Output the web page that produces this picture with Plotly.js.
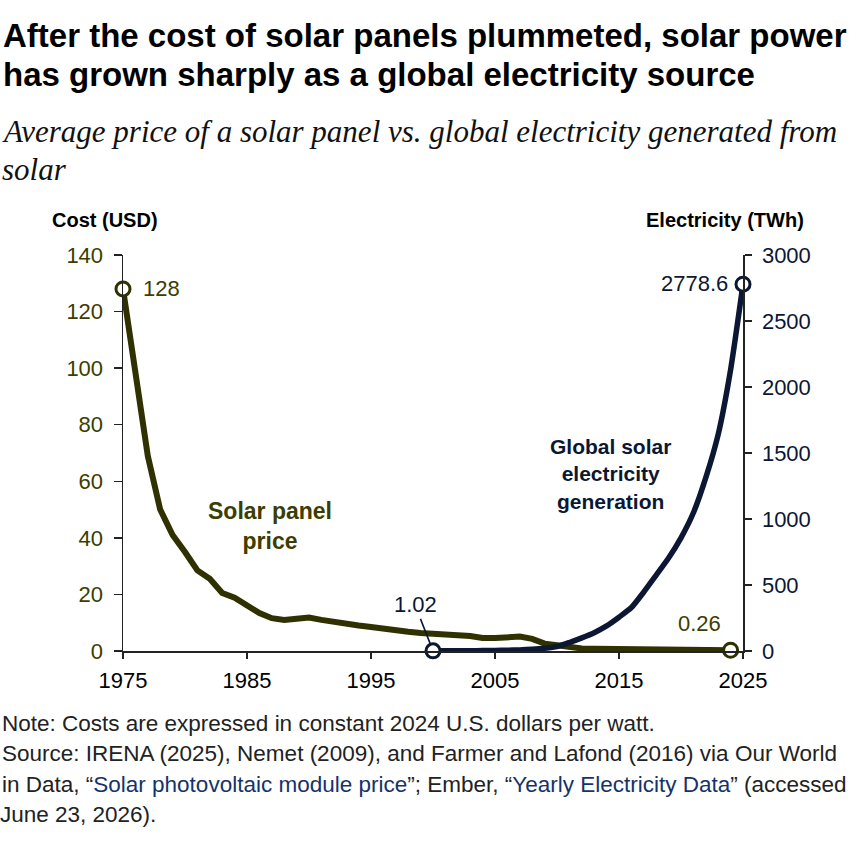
<!DOCTYPE html>
<html>
<head>
<meta charset="utf-8">
<script src="https://cdn.plot.ly/plotly-3.0.1.min.js"></script>
<style>
  html, body { margin: 0; padding: 0; background: #fff; }
  #chart { width: 860px; height: 848px; }
</style>
</head>
<body>
<div id="chart"></div>
<script>
// Solar panel price (constant 2024 USD per watt), 1975-2024
const priceYears = [1975,1976,1977,1978,1979,1980,1981,1982,1983,1984,1985,1986,1987,1988,1989,
  1990,1991,1992,1993,1994,1995,1996,1997,1998,1999,2000,2001,2002,2003,2004,2005,2006,2007,2008,
  2009,2010,2011,2012,2013,2014,2015,2016,2017,2018,2019,2020,2021,2022,2023,2024];
const priceValues = [128,98,69,50,41,35,28.5,25.5,20.5,18.8,16,13.4,11.6,11,11.4,
  11.8,11,10.2,9.6,9,8.5,7.8,7.6,6.8,6.4,6.3,6.1,5.6,5.3,4.6,4.6,5,5.1,4.3,
  2.6,2,1.3,0.9,0.8,0.75,0.65,0.55,0.45,0.35,0.32,0.3,0.33,0.35,0.3,0.26];

// Global solar electricity generation (TWh), 2000-2025
const genYears = [2000,2001,2002,2003,2004,2005,2006,2007,2008,2009,2010,2011,2012,
  2013,2014,2015,2016,2017,2018,2019,2020,2021,2022,2023,2024,2025];
const genValues = [1.02,1.3,1.8,2.3,3.2,4.3,5.7,7.9,12.8,20.7,33.5,64.5,99.5,
  139,190,256,329,447,575,704,857,1047,1313,1641,2131,2778.6];

const xTicks = [1975,1985,1995,2005,2015,2025];

const olive = '#2f3100';
const oliveText = '#3c3d00';
const navy = '#0b1733';

// plot area in page pixels: x 123..743, y 255..651
const W = 860, H = 848;
const L = 123, R = 743, T = 255, B = 651;
function px(x) { return (x - L) / (R - L); }
function py(y) { return (B - y) / (B - T); }

const first = a => [a[0]];
const last = a => [a[a.length - 1]];

const data = [
  {
    x: priceYears, y: priceValues, type: 'scatter', mode: 'lines',
    line: {color: olive, width: 6, shape: 'linear'},
    cliponaxis: false, hoverinfo: 'skip'
  },
  {
    x: genYears, y: genValues, type: 'scatter', mode: 'lines', yaxis: 'y2',
    line: {color: navy, width: 5.5, shape: 'spline', smoothing: 0.6},
    cliponaxis: false, hoverinfo: 'skip'
  },
  {
    x: first(priceYears).concat(last(priceYears)),
    y: first(priceValues).concat(last(priceValues)),
    type: 'scatter', mode: 'markers', cliponaxis: false,
    marker: {symbol: 'circle', size: 14, color: '#fff', line: {color: olive, width: 3}}
  },
  {
    x: first(genYears).concat(last(genYears)),
    y: first(genValues).concat(last(genValues)),
    type: 'scatter', mode: 'markers', yaxis: 'y2', cliponaxis: false,
    marker: {symbol: 'circle', size: 14, color: '#fff', line: {color: navy, width: 3}}
  }
];

const sans = 'Liberation Sans, Arial, sans-serif';
const tickFont = {family: sans, size: 22};

function pageText(text, x, y, opts) {
  return Object.assign({
    text: text, xref: 'paper', yref: 'paper', x: px(x), y: py(y),
    xanchor: 'left', yanchor: 'middle', showarrow: false,
    font: {family: sans, size: 20, color: '#000'}
  }, opts || {});
}

const noteFont = {family: sans, size: 22.5, color: '#222'};
const subFont = {family: 'Liberation Serif, Times New Roman, serif', size: 31, color: '#111'};

const annotations = [
  pageText('<b>After the cost of solar panels plummeted, solar power</b>', 1, 35,
    {font: {family: sans, size: 33, color: '#000'}}),
  pageText('<b>has grown sharply as a global electricity source</b>', 1, 74,
    {font: {family: sans, size: 33, color: '#000'}}),
  pageText('<i>Average price of a solar panel vs. global electricity generated from</i>', 0, 131,
    {font: subFont}),
  pageText('<i>solar</i>', 0, 169, {font: subFont}),

  pageText('<b>Cost (USD)</b>', 50, 220, {font: {family: sans, size: 20, color: '#000'}}),
  pageText('<b>Electricity (TWh)</b>', 806, 220,
    {xanchor: 'right', font: {family: sans, size: 20, color: '#000'}}),

  pageText('<b>Solar panel</b><br><b>price</b>', 270, 526,
    {xanchor: 'center', align: 'center', font: {family: sans, size: 23, color: oliveText}}),
  pageText('<b>Global solar</b><br><b>electricity</b><br><b>generation</b>', 610, 474,
    {xanchor: 'center', align: 'center', font: {family: sans, size: 21, color: navy}}),

  {
    text: '128', x: priceYears[0], y: priceValues[0], xref: 'x', yref: 'y',
    xanchor: 'left', yanchor: 'middle', xshift: 18, showarrow: false,
    font: {family: sans, size: 22, color: oliveText}
  },
  {
    text: String(last(priceValues)[0]), x: last(priceYears)[0], y: last(priceValues)[0],
    xref: 'x', yref: 'y', xanchor: 'center', yanchor: 'middle', xshift: -31, yshift: 27,
    showarrow: false, font: {family: sans, size: 22, color: oliveText}
  },
  {
    text: String(genValues[0]), x: genYears[0], y: genValues[0], xref: 'x', yref: 'y2',
    showarrow: true, arrowhead: 0, arrowwidth: 1.6, arrowcolor: navy,
    ax: -18, ay: -46, standoff: 7,
    font: {family: sans, size: 22, color: navy}
  },
  {
    text: String(last(genValues)[0]), x: last(genYears)[0], y: last(genValues)[0],
    xref: 'x', yref: 'y2', xanchor: 'right', yanchor: 'middle', xshift: -13, yshift: 1,
    showarrow: false, font: {family: sans, size: 22, color: navy}
  },

  pageText('Note: Costs are expressed in constant 2024 U.S. dollars per watt.', 0, 723,
    {font: noteFont}),
  pageText('Source: IRENA (2025), Nemet (2009), and Farmer and Lafond (2016) via Our World', 0, 753,
    {font: noteFont}),
  pageText('in Data, \u201c<span style="color:#15336b">Solar photovoltaic module price</span>\u201d; Ember, \u201c<span style="color:#15336b">Yearly Electricity Data</span>\u201d (accessed', 0, 784,
    {font: noteFont}),
  pageText('June 23, 2026).', -2, 814, {font: noteFont})
];

const layout = {
  width: W, height: H,
  margin: {l: L, r: W - R, t: T, b: H - B, pad: 0},
  paper_bgcolor: '#fff', plot_bgcolor: '#fff',
  showlegend: false,
  xaxis: {
    range: [1975, 2025], tickvals: xTicks, ticks: 'outside', ticklen: 6, tickwidth: 1.5,
    tickcolor: '#222', showline: true, linecolor: '#222', linewidth: 1.5,
    showgrid: false, zeroline: false, tickfont: Object.assign({color: '#000'}, tickFont),
    ticklabelstandoff: 3
  },
  yaxis: {
    range: [0, 140], dtick: 20, ticks: 'outside', ticklen: 8, tickwidth: 1.5,
    tickcolor: '#222', showline: true, linecolor: '#222', linewidth: 1.5,
    showgrid: false, zeroline: false, tickfont: Object.assign({color: oliveText}, tickFont),
    ticklabelstandoff: 6
  },
  yaxis2: {
    range: [0, 3000], dtick: 500, overlaying: 'y', side: 'right', ticks: 'outside',
    ticklen: 7, tickwidth: 1.5, tickcolor: '#222', showline: true, linecolor: '#222',
    linewidth: 1.5, showgrid: false, zeroline: false,
    tickfont: Object.assign({color: navy}, tickFont), ticklabelstandoff: 6
  },
  annotations: annotations
};

Plotly.newPlot('chart', data, layout, {displayModeBar: false, staticPlot: true});
</script>
</body>
</html>
